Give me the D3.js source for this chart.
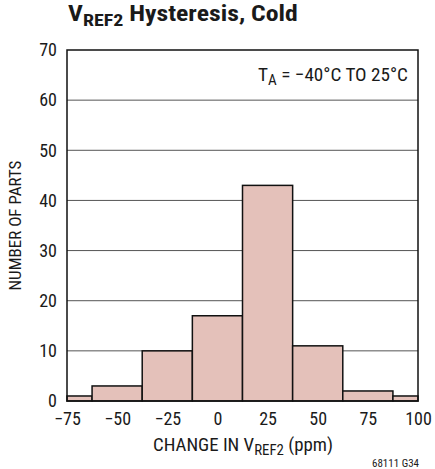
<!DOCTYPE html>
<html>
<head>
<meta charset="utf-8">
<script src="https://cdn.jsdelivr.net/npm/d3@7"></script>
<style>
  html, body { margin: 0; padding: 0; background: #fff; }
  text { font-family: "Liberation Sans Narrow", "Roboto Condensed", "DejaVu Sans Condensed", "Liberation Sans", sans-serif; fill: #1a1a1a; }
</style>
</head>
<body>
<svg id="chart" width="435" height="469"></svg>
<script>
// Histogram bins (ppm) and counts
const binStarts = [-75, -62.5, -37.5, -12.5, 12.5, 37.5, 62.5, 87.5];
const binEnds   = [-62.5, -37.5, -12.5, 12.5, 37.5, 62.5, 87.5, 100];
const counts    = [1, 3, 10, 17, 43, 11, 2, 1];
const xTicks = [-75, -50, -25, 0, 25, 50, 75, 100];
const yTicks = [0, 10, 20, 30, 40, 50, 60, 70];

const svg = d3.select("#chart");
const m = { left: 67, right: 418, top: 50, bottom: 401 };

const x = d3.scaleLinear().domain([-75, 100]).range([m.left, m.right]);
const y = d3.scaleLinear().domain([0, 70]).range([m.bottom, m.top]);

// stretch a text horizontally to a given width, keeping its anchor point fixed
function fitWidth(sel, width, ax) {
  const w = sel.node().getBBox().width;
  const k = width / w;
  sel.attr("transform", `translate(${ax},0) scale(${k},1) translate(${-ax},0)`);
}

// horizontal gridlines
svg.append("g")
  .selectAll("line")
  .data(yTicks.filter(d => d > 0 && d < 70))
  .join("line")
  .attr("x1", m.left).attr("x2", m.right)
  .attr("y1", d => y(d)).attr("y2", d => y(d))
  .attr("stroke", "#555").attr("stroke-width", 1);

// bars
svg.append("g")
  .selectAll("rect")
  .data(counts)
  .join("rect")
  .attr("x", (d, i) => x(binStarts[i]))
  .attr("width", (d, i) => x(binEnds[i]) - x(binStarts[i]))
  .attr("y", d => y(d))
  .attr("height", d => y(0) - y(d))
  .attr("fill", "#e4c1ba")
  .attr("stroke", "#111")
  .attr("stroke-width", 1.5);

// frame
svg.append("rect")
  .attr("x", m.left).attr("y", m.top)
  .attr("width", m.right - m.left).attr("height", m.bottom - m.top)
  .attr("fill", "none").attr("stroke", "#111").attr("stroke-width", 1.5);

// axes (labels only)
const xAxis = d3.axisBottom(x).tickValues(xTicks).tickSize(0).tickPadding(11)
  .tickFormat(d => d < 0 ? "\u2212" + Math.abs(d) : d);
const gx = svg.append("g").attr("transform", `translate(0,${m.bottom})`).call(xAxis);
gx.select(".domain").remove();
gx.selectAll("text").attr("font-size", 18).attr("fill", "#1a1a1a")
  .style("font-family", "\"Liberation Sans Narrow\", \"Roboto Condensed\", \"DejaVu Sans Condensed\", sans-serif");

const yAxis = d3.axisLeft(y).tickValues(yTicks).tickSize(0).tickPadding(10);
const gy = svg.append("g").attr("transform", `translate(${m.left},0)`).call(yAxis);
gy.select(".domain").remove();
gy.selectAll("text").attr("font-size", 18).attr("fill", "#1a1a1a")
  .style("font-family", "\"Liberation Sans Narrow\", \"Roboto Condensed\", \"DejaVu Sans Condensed\", sans-serif");

// title
const title = svg.append("text").attr("x", 68).attr("y", 21)
  .attr("font-size", 22).attr("font-weight", "bold");
title.append("tspan").text("V");
title.append("tspan").attr("font-size", 17).attr("dy", 5).text("REF2");
title.append("tspan").attr("dy", -5).text(" Hysteresis, Cold");
fitWidth(title, 230, 68);

// x axis label
const xl = svg.append("text").attr("x", 243).attr("y", 451)
  .attr("text-anchor", "middle").attr("font-size", 19);
xl.append("tspan").text("CHANGE IN V");
xl.append("tspan").attr("font-size", 15).attr("dy", 4).text("REF2");
xl.append("tspan").attr("dy", -4).text(" (ppm)");
fitWidth(xl, 180, 243);

// y axis label
svg.append("text")
  .attr("transform", `translate(21,${(m.top + m.bottom) / 2}) rotate(-90)`)
  .attr("text-anchor", "middle").attr("font-size", 17)
  .text("NUMBER OF PARTS");

// condition annotation
const ann = svg.append("text").attr("x", 408).attr("y", 81)
  .attr("text-anchor", "end").attr("font-size", 19);
ann.append("tspan").text("T");
ann.append("tspan").attr("font-size", 15).attr("dy", 4).text("A");
ann.append("tspan").attr("dy", -4).text(" = \u221240\u00B0C TO 25\u00B0C");
fitWidth(ann, 150, 408);

// figure id
svg.append("text").attr("x", 419).attr("y", 467)
  .attr("text-anchor", "end").attr("font-size", 11)
  .text("68111 G34");
</script>
</body>
</html>
